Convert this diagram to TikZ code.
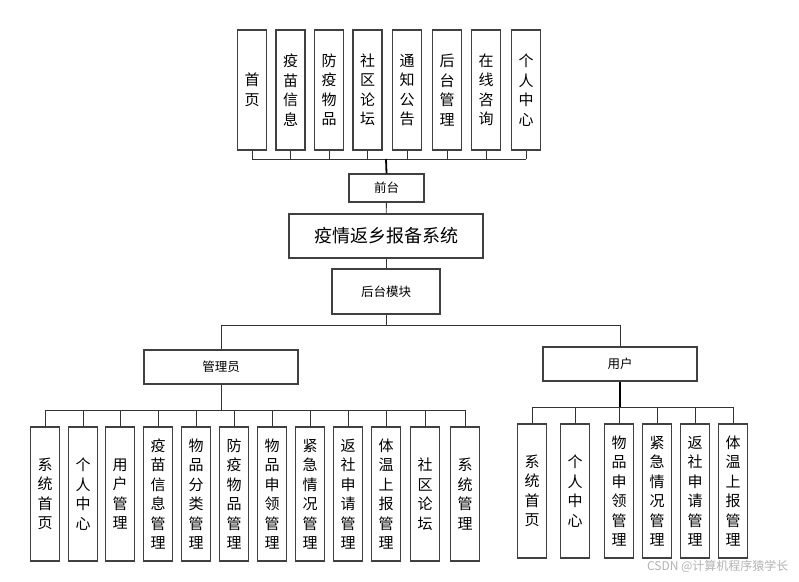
\documentclass[tikz,border=0pt]{standalone}
\usepackage{fontspec}
\setmainfont{Noto Sans CJK SC}
\begin{document}
\begin{tikzpicture}[x=1pt,y=-1pt,
  box/.style={draw=black!75,line width=1.1pt,fill=white,inner sep=0pt},
  vbox/.style={box,minimum width=29pt,align=center,font=\fontsize{15}{19.5}\selectfont},
  ln/.style={draw=black!80,line width=0.9pt}]
\useasboundingbox (0,0) rectangle (799,581);
% top
\foreach \n/\x/\t in {t1/252/首\\页, t2/290.5/疫\\苗\\信\\息, t3/329/防\\疫\\物\\品, t4/367.5/社\\区\\论\\坛, t5/407/通\\知\\公\\告, t6/447/后\\台\\管\\理, t7/486/在\\线\\咨\\询, t8/526/个\\人\\中\\心}
  \node[vbox,minimum height=120pt] (\n) at (\x,90) {\t};
\node[box,minimum width=75pt,minimum height=28pt,font=\fontsize{12.5}{14}\selectfont] (qt) at (386.5,188) {前台};
\node[box,minimum width=194pt,minimum height=44pt,font=\fontsize{18}{20}\selectfont] (sys) at (386,236) {疫情返乡报备系统};
\node[box,minimum width=108pt,minimum height=45pt,font=\fontsize{12.5}{14}\selectfont] (ht) at (386,291.5) {后台模块};
\coordinate (tb) at (386,159);
\foreach \n in {t1,t2,t3,t4,t5,t6,t7,t8} \draw[ln] (\n.south) -- (\n.south |- tb);
\draw[ln] (t1.south |- tb) -- (t8.south |- tb);
\draw[line width=1.8pt] (tb) -- (qt.north);
\draw[ln] (qt) -- (sys); \draw[ln] (sys) -- (ht);
% middle
\node[box,minimum width=154pt,minimum height=34pt,font=\fontsize{12.5}{14}\selectfont] (adm) at (221,367) {管理员};
\node[box,minimum width=154pt,minimum height=34pt,font=\fontsize{12.5}{14}\selectfont] (usr) at (620,364) {用户};
\coordinate (mb) at (386,325);
\draw[ln] (ht.south) -- (mb);
\draw[ln] (adm.north) -- (adm.north |- mb) -- (usr.north |- mb) -- (usr.north);
% admin children
\foreach \n/\x/\t in {a1/45/系\\统\\首\\页, a2/83/个\\人\\中\\心, a3/120/用\\户\\管\\理, a4/158/疫\\苗\\信\\息\\管\\理, a5/196/物\\品\\分\\类\\管\\理, a6/234/防\\疫\\物\\品\\管\\理, a7/272/物\\品\\申\\领\\管\\理, a8/310/紧\\急\\情\\况\\管\\理, a9/348/返\\社\\申\\请\\管\\理, a10/386/体\\温\\上\\报\\管\\理, a11/425/社\\区\\论\\坛, a12/465/系\\统\\管\\理}
  \node[vbox,minimum height=134pt] (\n) at (\x,494) {\t};
\coordinate (ab) at (221,410);
\draw[ln] (adm.south) -- (ab);
\foreach \n in {a1,a2,a3,a4,a5,a6,a7,a8,a9,a10,a11,a12} \draw[ln] (\n.north) -- (\n.north |- ab);
\draw[ln] (a1.north |- ab) -- (a12.north |- ab);
% user children
\foreach \n/\x/\t in {u1/532/系\\统\\首\\页, u2/575/个\\人\\中\\心, u3/619/物\\品\\申\\领\\管\\理, u4/657/紧\\急\\情\\况\\管\\理, u5/695/返\\社\\申\\请\\管\\理, u6/733/体\\温\\上\\报\\管\\理}
  \node[vbox,minimum height=134pt] (\n) at (\x,491) {\t};
\coordinate (ub) at (620,407);
\draw[line width=1.5pt] (usr.south) -- (ub);
\foreach \n in {u1,u2,u3,u4,u5,u6} \draw[ln] (\n.north) -- (\n.north |- ub);
\draw[ln] (u1.north |- ub) -- (u6.north |- ub);
\node[text=black!30,font=\fontsize{12}{14}\selectfont,anchor=east] (wm) at (792,566) {CSDN @计算机程序猿学长};
\end{tikzpicture}
\end{document}
